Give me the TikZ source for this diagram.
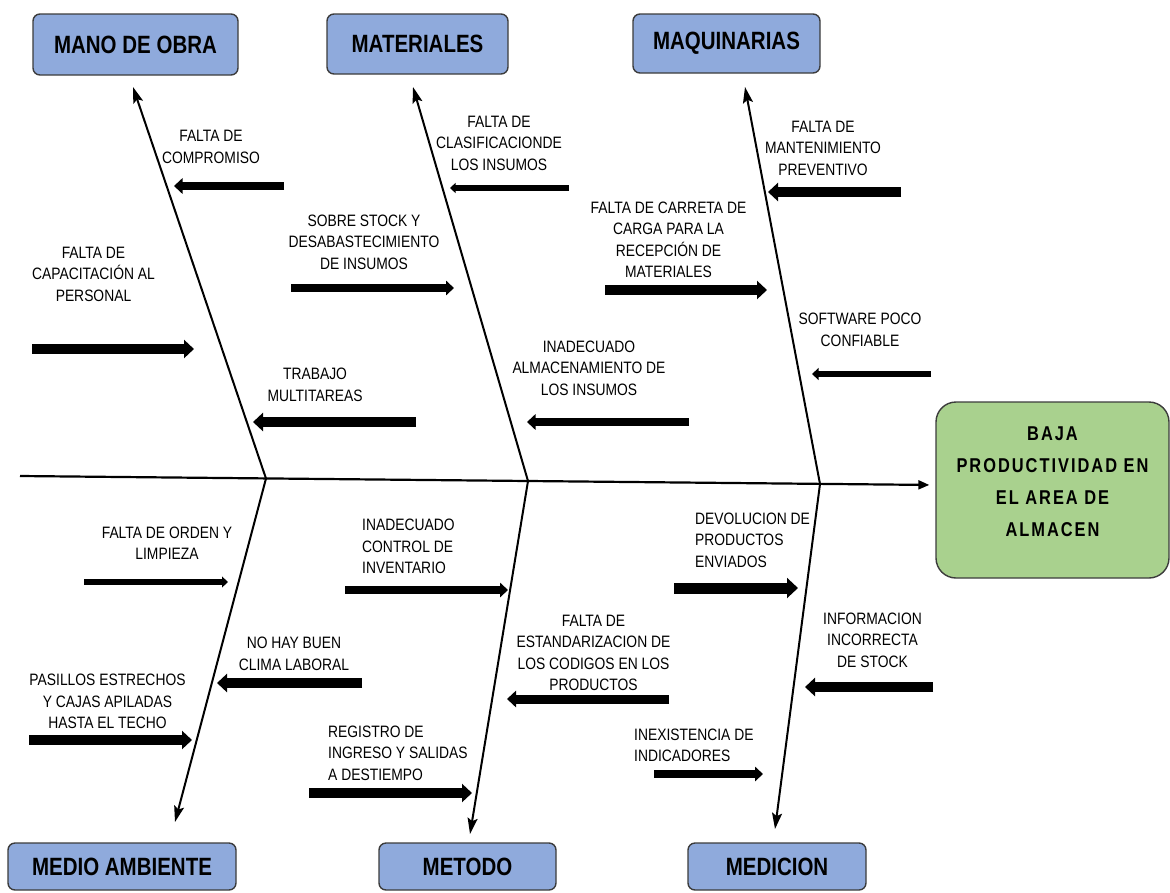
\documentclass[tikz,border=0pt]{standalone}
\usepackage{fontspec}
\setmainfont{Liberation Sans}
\newfontfamily\labelfont{Liberation Sans}[FakeStretch=0.84]
\newfontfamily\headfont{Liberation Sans}[FakeStretch=0.82]
\newfontfamily\effectfont{Liberation Sans}[FakeStretch=0.82,LetterSpace=10]
\usetikzlibrary{arrows.meta}
\definecolor{catblue}{RGB}{143,170,220}
\definecolor{effgreen}{RGB}{169,209,142}
\definecolor{edgegray}{RGB}{60,60,60}

\begin{document}
\begin{tikzpicture}[x=1pt,y=-1pt,
  cat/.style={draw=edgegray, line width=1.4pt, fill=catblue, rounded corners=7pt,
    font=\headfont\bfseries\fontsize{25}{28}\selectfont, inner sep=0pt},
  effect/.style={draw=edgegray, line width=1.4pt, fill=effgreen, rounded corners=20pt, inner sep=0pt},
  efftext/.style={align=center, inner sep=0pt, font=\effectfont\bfseries\fontsize{20}{32}\selectfont},
  lbl/.style={font=\labelfont\fontsize{16.5}{21.5}\selectfont, align=center, inner sep=0pt},
  lbll/.style={lbl, align=left, anchor=west},
  bone/.style={line width=2pt, -{Stealth[length=16pt,width=10pt,inset=3pt]}},
  spine/.style={line width=2.2pt, -{Triangle[length=11pt,width=9pt]}},
  cause/.style={line width=#1, -{Triangle[width=0pt 1.8, length=0pt 1.0]}},
  cause/.default=9pt]

\useasboundingbox (0,0) rectangle (1170,892);

% category boxes
\node[cat, minimum width=205pt, minimum height=61pt] (mano) at (135.5,44.5) {MANO DE OBRA};
\node[cat, minimum width=181pt, minimum height=60pt] (mat) at (417.5,44) {MATERIALES};
\node[cat, minimum width=187pt, minimum height=59pt] (maq) at (726.5,43.5) {MAQUINARIAS};
\node[cat, minimum width=228pt, minimum height=47pt] (medio) at (122,866.5) {MEDIO AMBIENTE};
\node[cat, minimum width=177pt, minimum height=47pt] (met) at (467.5,866.5) {METODO};
\node[cat, minimum width=178pt, minimum height=47pt] (med) at (777,866.5) {MEDICION};

% effect box and its text
\node[effect, minimum width=233pt, minimum height=176pt] (eff) at (1052.5,490) {};
\node[efftext] (efft) at (1052.5,482) {BAJA\\PRODUCTIVIDAD EN\\EL AREA DE\\ALMACEN};

% spine and bones
\coordinate (s0) at (20,476);
\draw[spine, shorten >=6pt] (s0) -- ([yshift=5pt]eff.west);

\coordinate (j1) at (266,478.5);
\coordinate (j2) at (528,481);
\coordinate (j3) at (820,484);
\coordinate (t1) at (133,87);
\coordinate (t2) at (413,87);
\coordinate (t3) at (745,87);
\coordinate (b1) at (175,822);
\coordinate (b2) at (470,834);
\coordinate (b3) at (775,829);
\draw[bone] (j1) -- (t1);
\draw[bone] (j2) -- (t2);
\draw[bone] (j3) -- (t3);
\draw[bone] (j1) -- (b1);
\draw[bone] (j2) -- (b2);
\draw[bone] (j3) -- (b3);

% causes: labels
\node[lbl] (l1) at (211,147) {FALTA DE\\COMPROMISO};
\node[lbl] (l2) at (93.5,274) {FALTA DE\\CAPACITACIÓN AL\\PERSONAL};
\node[lbl] (l3) at (315,385) {TRABAJO\\MULTITAREAS};
\node[lbl] (l4) at (364,242) {SOBRE STOCK Y\\DESABASTECIMIENTO\\DE INSUMOS};
\node[lbl] (l5) at (499,143) {FALTA DE\\CLASIFICACIONDE\\LOS INSUMOS};
\node[lbl] (l6) at (668.5,240) {FALTA DE CARRETA DE\\CARGA PARA LA\\RECEPCIÓN DE\\MATERIALES};
\node[lbl] (l7) at (589,368) {INADECUADO\\ALMACENAMIENTO DE\\LOS INSUMOS};
\node[lbl] (l8) at (823,148) {FALTA DE\\MANTENIMIENTO\\PREVENTIVO};
\node[lbl] (l9) at (860,330) {SOFTWARE POCO\\CONFIABLE};
\node[lbl] (l10) at (167,543) {FALTA DE ORDEN Y\\LIMPIEZA};
\node[lbl] (l11) at (107.5,701.5) {PASILLOS ESTRECHOS\\Y CAJAS APILADAS\\HASTA EL TECHO};
\node[lbl] (l12) at (294,654) {NO HAY BUEN\\CLIMA LABORAL};
\node[lbll] (l13) at (362,546.5) {INADECUADO\\CONTROL DE\\INVENTARIO};
\node[lbll] (l14) at (328,753) {REGISTRO DE\\INGRESO Y SALIDAS\\A DESTIEMPO};
\node[lbl] (l15) at (593.5,653) {FALTA DE\\ESTANDARIZACION DE\\LOS CODIGOS EN LOS\\PRODUCTOS};
\node[lbll] (l16) at (695,540) {DEVOLUCION DE\\PRODUCTOS\\ENVIADOS};
\node[lbl] (l17) at (872.5,640) {INFORMACION\\INCORRECTA\\DE STOCK};
\node[lbll] (l18) at (634,745.5) {INEXISTENCIA DE\\INDICADORES};

% causes: arrows
\coordinate (a1) at (284,186);   \coordinate (e1) at (174,186);
\coordinate (a2) at (32,349);    \coordinate (e2) at (194,349);
\coordinate (a3) at (416,422);   \coordinate (e3) at (253,422);
\coordinate (a4) at (291,288);   \coordinate (e4) at (454,288);
\coordinate (a5) at (569,188);   \coordinate (e5) at (450,188);
\coordinate (a6) at (605,290);   \coordinate (e6) at (767,290);
\coordinate (a7) at (689,422);   \coordinate (e7) at (527,422);
\coordinate (a8) at (901,192);   \coordinate (e8) at (768,192);
\coordinate (a9) at (931,374);   \coordinate (e9) at (812,374);
\coordinate (a10) at (84,582);   \coordinate (e10) at (228,582);
\coordinate (a11) at (29,740);   \coordinate (e11) at (192,740);
\coordinate (a12) at (362,683);  \coordinate (e12) at (217,683);
\coordinate (a13) at (345,590);  \coordinate (e13) at (508,590);
\coordinate (a14) at (309,793);  \coordinate (e14) at (472,793);
\coordinate (a15) at (669,699);  \coordinate (e15) at (507,699);
\coordinate (a16) at (674,588);  \coordinate (e16) at (798,588);
\coordinate (a17) at (933,687);  \coordinate (e17) at (805,687);
\coordinate (a18) at (654,774);  \coordinate (e18) at (763,774);

\draw[cause=8.5pt] (a1) -- (e1);
\draw[cause=10pt] (a2) -- (e2);
\draw[cause=10pt] (a3) -- (e3);
\draw[cause=8pt] (a4) -- (e4);
\draw[cause=5.5pt] (a5) -- (e5);
\draw[cause=10pt] (a6) -- (e6);
\draw[cause=8.5pt] (a7) -- (e7);
\draw[cause=10pt] (a8) -- (e8);
\draw[cause=6.5pt] (a9) -- (e9);
\draw[cause=6pt] (a10) -- (e10);
\draw[cause=10pt] (a11) -- (e11);
\draw[cause=10pt] (a12) -- (e12);
\draw[cause=8pt] (a13) -- (e13);
\draw[cause=10pt] (a14) -- (e14);
\draw[cause=9pt] (a15) -- (e15);
\draw[cause=11pt] (a16) -- (e16);
\draw[cause=10pt] (a17) -- (e17);
\draw[cause=8pt] (a18) -- (e18);
\end{tikzpicture}
\end{document}
